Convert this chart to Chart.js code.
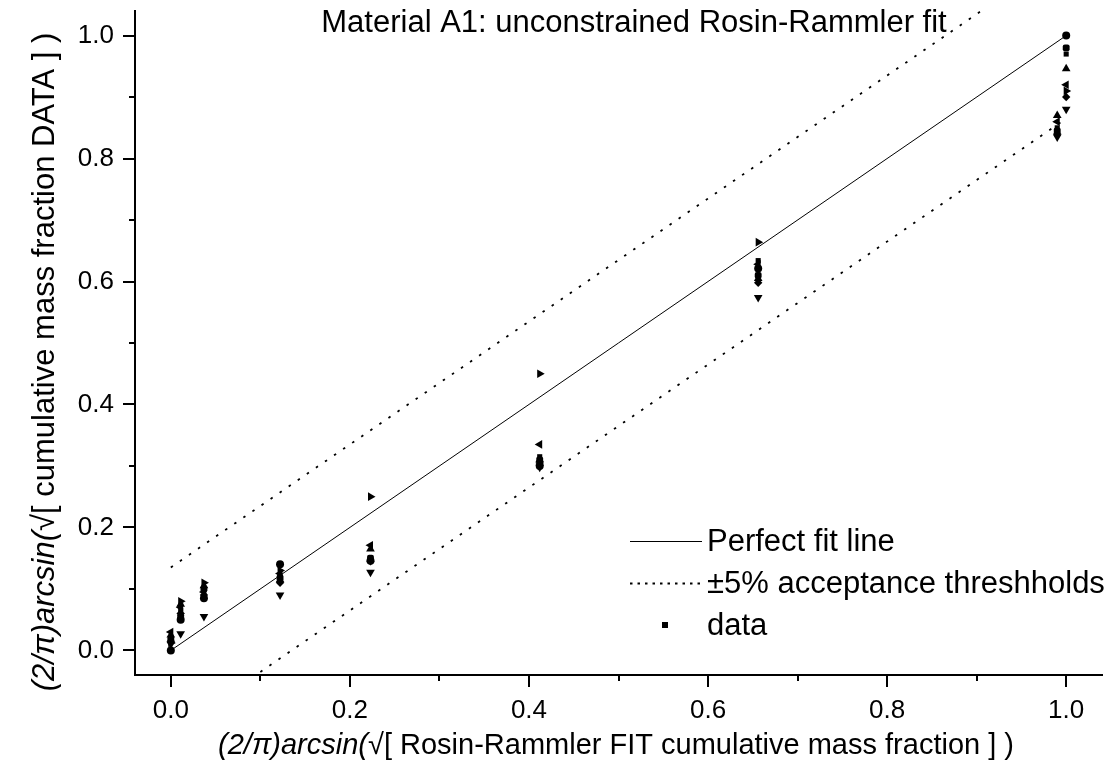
<!DOCTYPE html>
<html>
<head>
<meta charset="utf-8">
<script src="https://cdn.jsdelivr.net/npm/chart.js@4/dist/chart.umd.min.js"></script>
<style>
  body { margin: 0; background: #fff; }
</style>
</head>
<body>
<canvas id="myChart" width="1115" height="780"></canvas>
<script>
// fit positions (transformed), shared by all data series
var fitX = [0.000, 0.011, 0.037, 0.122, 0.223, 0.412, 0.656, 0.990, 1.000];

// measured values (transformed), one array per sample / marker
var dataCircle  = [0.000, 0.050, 0.085, 0.140, 0.146, 0.300, 0.621, null,  1.000];
var dataSquare  = [0.020, 0.065, 0.100, 0.120, 0.150, 0.315, 0.634, 0.850, 0.970];
var dataUp      = [0.025, 0.075, 0.105, 0.115, 0.165, 0.310, 0.605, 0.870, 0.946];
var dataDown    = [0.010, 0.027, 0.055, 0.090, 0.127, 0.298, 0.574, 0.835, 0.880];
var dataDiamond = [0.015, 0.060, 0.090, 0.110, 0.145, 0.305, 0.598, 0.840, 0.900];
var dataLeft    = [0.030, 0.070, 0.095, 0.125, 0.171, 0.335, 0.628, 0.860, 0.920];
var dataRight   = [0.012, 0.080, 0.110, 0.130, 0.250, 0.450, 0.664, null,  0.910];
var dataHex     = [0.018, 0.055, 0.100, 0.118, 0.150, 0.310, 0.610, 0.845, 0.980];

// reference lines
var perfectX = [0, 1];
var perfectY = [0, 1];
var upperX = [0, 0.905];
var upperY = [0.135, 1.04];
var lowerX = [0.1, 1.0];
var lowerY = [-0.035, 0.865];

var tickValues = [0, 0.2, 0.4, 0.6, 0.8, 1.0];
var minorValues = [0, 0.1, 0.2, 0.3, 0.4, 0.5, 0.6, 0.7, 0.8, 0.9, 1.0];

var chartTitle = 'Material A1: unconstrained Rosin-Rammler fit';
var legendLabels = ['Perfect fit line', '\u00b15% acceptance threshholds', 'data'];

var FONT = '"Liberation Sans", Arial, sans-serif';

function pts(xs, ys) {
    var out = [];
    for (var i = 0; i < xs.length; i++) {
        if (ys[i] !== null) out.push({x: xs[i], y: ys[i]});
    }
    return out;
}

function lineSet(xs, ys, dash, width) {
    return {
        data: pts(xs, ys),
        showLine: true,
        borderColor: '#000',
        borderWidth: width,
        borderDash: dash,
        pointRadius: 0,
        fill: false
    };
}

function markerSet(ys, style, rot, r) {
    return {
        data: pts(fitX, ys),
        pointStyle: style,
        rotation: rot,
        pointRadius: r,
        backgroundColor: '#000',
        borderColor: '#000',
        borderWidth: 0,
        showLine: false
    };
}

var datasets = [
    lineSet(perfectX, perfectY, [], 1),
    lineSet(upperX, upperY, [2.5, 8.5], 1.8),
    lineSet(lowerX, lowerY, [2.5, 8.5], 1.8),
    markerSet(dataCircle, 'circle', 0, 4),
    markerSet(dataSquare, 'rect', 0, 3.6),
    markerSet(dataUp, 'triangle', 0, 5),
    markerSet(dataDown, 'triangle', 180, 5),
    markerSet(dataDiamond, 'rectRot', 0, 4.2),
    markerSet(dataLeft, 'triangle', 270, 5),
    markerSet(dataRight, 'triangle', 90, 5),
    markerSet(dataHex, 'rectRounded', 0, 4)
];

// draws tick marks, title, axis titles and legend
var decor = {
    id: 'decor',
    afterDraw: function (chart) {
        var ctx = chart.ctx;
        var xs = chart.scales.x, ys = chart.scales.y;
        var area = chart.chartArea;
        ctx.save();
        ctx.strokeStyle = '#000';
        ctx.fillStyle = '#000';
        ctx.lineWidth = 2;

        // ticks
        minorValues.forEach(function (v, i) {
            var len = (i % 2 === 0) ? 12 : 6;
            var px = Math.round(xs.getPixelForValue(v));
            ctx.beginPath();
            ctx.moveTo(px, area.bottom);
            ctx.lineTo(px, area.bottom + len);
            ctx.stroke();
            var py = Math.round(ys.getPixelForValue(v));
            ctx.beginPath();
            ctx.moveTo(area.left, py);
            ctx.lineTo(area.left - len, py);
            ctx.stroke();
        });

        // title inside plot
        ctx.font = '31px ' + FONT;
        ctx.textAlign = 'center';
        ctx.textBaseline = 'middle';
        ctx.fillText(chartTitle, 634, 23);

        // axis titles: italic prefix + regular rest
        function mixed(parts, cx, cy, size) {
            var total = 0;
            parts.forEach(function (p) { ctx.font = p[1] + ' ' + size + 'px ' + FONT; total += ctx.measureText(p[0]).width; });
            var x = cx - total / 2;
            ctx.textAlign = 'left';
            parts.forEach(function (p) {
                ctx.font = p[1] + ' ' + size + 'px ' + FONT;
                ctx.fillText(p[0], x, cy);
                x += ctx.measureText(p[0]).width;
            });
        }
        mixed([['(2/\u03c0)arcsin(\u221a', 'italic'], ['[ Rosin-Rammler FIT cumulative mass fraction ] )', 'normal']], 616, 746, 29);
        ctx.save();
        ctx.translate(45, 362);
        ctx.rotate(-Math.PI / 2);
        mixed([['(2/\u03c0)arcsin(\u221a', 'italic'], ['[ cumulative mass fraction DATA ] )', 'normal']], 0, 0, 31);
        ctx.restore();

        // legend
        ctx.font = '31px ' + FONT;
        ctx.textAlign = 'left';
        ctx.lineWidth = 1;
        ctx.beginPath();
        ctx.moveTo(630, 541.5);
        ctx.lineTo(702, 541.5);
        ctx.stroke();
        ctx.fillText(legendLabels[0], 707, 542);
        ctx.lineWidth = 1.8;
        ctx.setLineDash([2.5, 5]);
        ctx.beginPath();
        ctx.moveTo(630, 583.5);
        ctx.lineTo(702, 583.5);
        ctx.stroke();
        ctx.setLineDash([]);
        ctx.fillText(legendLabels[1], 707, 584);
        ctx.fillRect(662, 622, 6, 6);
        ctx.fillText(legendLabels[2], 707, 626);
        ctx.restore();
    }
};

var ctx = document.getElementById('myChart');
var chart = new Chart(ctx, {
    type: 'scatter',
    data: { datasets: datasets },
    options: {
        responsive: false,
        animation: false,
        devicePixelRatio: 1,
        layout: { padding: { top: 11, right: 13, left: 0, bottom: 0 } },
        plugins: {
            legend: { display: false },
            tooltip: { enabled: false }
        },
        scales: {
            x: {
                type: 'linear',
                min: -0.04,
                max: 1.04,
                afterBuildTicks: function (scale) {
                    scale.ticks = tickValues.map(function (v) { return {value: v}; });
                },
                afterFit: function (scale) {
                    scale.height = 105;
                    scale.paddingLeft = 0;
                    scale.paddingRight = 0;
                },
                grid: { display: false, drawTicks: true, tickLength: 12 },
                border: { display: true, color: '#000', width: 2 },
                ticks: {
                    color: '#000',
                    padding: 8,
                    maxRotation: 0,
                    font: { family: FONT, size: 26 },
                    callback: function (v) { return v.toFixed(1); }
                }
            },
            y: {
                type: 'linear',
                min: -0.04,
                max: 1.04,
                afterBuildTicks: function (scale) {
                    scale.ticks = tickValues.map(function (v) { return {value: v}; });
                },
                afterFit: function (scale) {
                    scale.width = 135;
                    scale.paddingTop = 0;
                    scale.paddingBottom = 0;
                },
                grid: { display: false, drawTicks: true, tickLength: 12 },
                border: { display: true, color: '#000', width: 2 },
                ticks: {
                    color: '#000',
                    padding: 9,
                    font: { family: FONT, size: 26 },
                    callback: function (v) { return v.toFixed(1); }
                }
            }
        }
    },
    plugins: [decor]
});
</script>
</body>
</html>
